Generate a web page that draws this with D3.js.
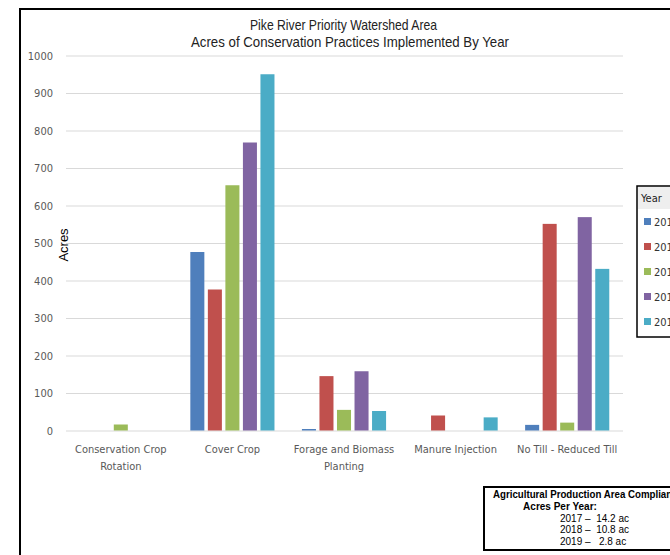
<!DOCTYPE html>
<html><head><meta charset="utf-8">
<script src="https://cdn.jsdelivr.net/npm/d3@7"></script>
<style>
html,body{margin:0;padding:0;background:#fff;overflow:hidden}
</style></head>
<body>
<svg id="chart" width="670" height="555"></svg>
<script>
const categories = ["Conservation Crop Rotation","Cover Crop","Forage and Biomass Planting","Manure Injection","No Till - Reduced Till"];
const categoryLines = [["Conservation Crop","Rotation"],["Cover Crop"],["Forage and Biomass","Planting"],["Manure Injection"],["No Till - Reduced Till"]];
const years = ["2015","2016","2017","2018","2019"];
const v2015 = [0, 476, 4, 0, 15];
const v2016 = [0, 376, 145, 40, 551];
const v2017 = [16, 654, 55, 0, 21];
const v2018 = [0, 768, 158, 0, 569];
const v2019 = [0, 950, 52, 35, 431];
const yTicks = [0,100,200,300,400,500,600,700,800,900,1000];
const colors = ["#4f7fbc","#c0504d","#9bbb59","#8064a2","#4bacc6"];
const complianceLines = ["2017 –  14.2 ac","2018 –  10.8 ac","2019 –   2.8 ac"];

const series = [v2015, v2016, v2017, v2018, v2019];
const svg = d3.select("#chart");
const condensed = "'DejaVu Sans Condensed','Liberation Sans Narrow',sans-serif";

// outer frame
svg.append("rect").attr("x",20).attr("y",9).attr("width",700).attr("height",600)
  .attr("fill","#fff").attr("stroke","#000").attr("stroke-width",2);

const x0 = d3.scaleBand().domain(categories).range([65,623]).paddingInner(0.246).paddingOuter(0.123);
const x1 = d3.scaleBand().domain(years).range([0, x0.bandwidth()]).paddingInner(0.2);
const y = d3.scaleLinear().domain([0,1000]).range([430.5,55.5]);

// gridlines
const yAxis = d3.axisLeft(y).tickValues(yTicks).tickSize(-(623-66)).tickPadding(13).tickFormat(d3.format("d"));
const gy = svg.append("g").attr("transform","translate(66,0)").call(yAxis);
gy.select(".domain").remove();
gy.selectAll(".tick line").attr("stroke","#d9d9d9").attr("stroke-width",1);
gy.selectAll(".tick text").attr("fill","#595959")
  .style("font-family",condensed).style("font-size","11px");

// bars
const groups = svg.append("g").selectAll("g").data(categories).join("g")
  .attr("transform", d => `translate(${x0(d)},0)`);
groups.selectAll("rect").data((d,i) => years.map((yr,j) => ({yr, v: series[j][i], c: colors[j]})))
  .join("rect")
  .attr("x", d => x1(d.yr)).attr("width", x1.bandwidth())
  .attr("y", d => y(d.v)).attr("height", d => y(0) - y(d.v))
  .attr("fill", d => d.c);

// category labels
const xl = svg.append("g");
categories.forEach((c,i) => {
  const t = xl.append("text").attr("x", x0(c) + x0.bandwidth()/2).attr("y", 453)
    .attr("text-anchor","middle").attr("fill","#595959")
    .style("font-family",condensed).style("font-size","11px");
  categoryLines[i].forEach((ln,k) => t.append("tspan").attr("x", x0(c) + x0.bandwidth()/2).attr("dy", k ? 17 : 0).text(ln));
});

// title
const tfont = "'Liberation Sans',Arial,sans-serif";
svg.append("text").attr("x",343.5).attr("y",30).attr("text-anchor","middle").attr("fill","#222")
  .style("font-family",tfont).style("font-size","15px")
  .attr("textLength",187).attr("lengthAdjust","spacingAndGlyphs").text("Pike River Priority Watershed Area");
svg.append("text").attr("x",350).attr("y",47).attr("text-anchor","middle").attr("fill","#222")
  .style("font-family",tfont).style("font-size","15px")
  .attr("textLength",318).attr("lengthAdjust","spacingAndGlyphs").text("Acres of Conservation Practices Implemented By Year");

// y label
svg.append("text").attr("transform","translate(68,245) rotate(-90)").attr("text-anchor","middle")
  .attr("fill","#000").style("font-family",tfont).style("font-size","13px").text("Acres");

// legend
const lg = svg.append("g");
lg.append("rect").attr("x",637).attr("y",186).attr("width",60).attr("height",151).attr("fill","#fff").attr("stroke","#000").attr("stroke-width",1.5);
lg.append("rect").attr("x",638).attr("y",187).attr("width",50).attr("height",22).attr("fill","#eeeeee");
lg.append("text").attr("x",641).attr("y",202).attr("fill","#222")
  .style("font-family",condensed).style("font-size","11px").text("Year");
years.forEach((yr,j) => {
  const yy = 222 + j*25;
  lg.append("rect").attr("x",644).attr("y",yy-4).attr("width",7).attr("height",7).attr("fill",colors[j]);
  lg.append("text").attr("x",654).attr("y",yy+4).attr("fill","#333")
    .style("font-family",condensed).style("font-size","11px").text(yr);
});

// compliance box
const cb = svg.append("g");
cb.append("rect").attr("x",484).attr("y",487).attr("width",200).attr("height",63).attr("fill","#fff").attr("stroke","#000").attr("stroke-width",2);
cb.append("text").attr("x",493).attr("y",498).attr("fill","#000").style("font-family",tfont)
  .style("font-size","10px").style("font-weight","bold").attr("textLength",190).attr("lengthAdjust","spacingAndGlyphs")
  .text("Agricultural Production Area Compliance");
cb.append("text").attr("x",560).attr("y",510).attr("fill","#000").attr("text-anchor","middle").style("font-family",tfont)
  .style("font-size","10px").style("font-weight","bold").text("Acres Per Year:");
complianceLines.forEach((t,k) => {
  cb.append("text").attr("x",560).attr("y",521.5 + k*11.5).attr("fill","#000").attr("xml:space","preserve")
    .style("white-space","pre").style("font-family",tfont).style("font-size","10px").text(t);
});
</script>
</body></html>
